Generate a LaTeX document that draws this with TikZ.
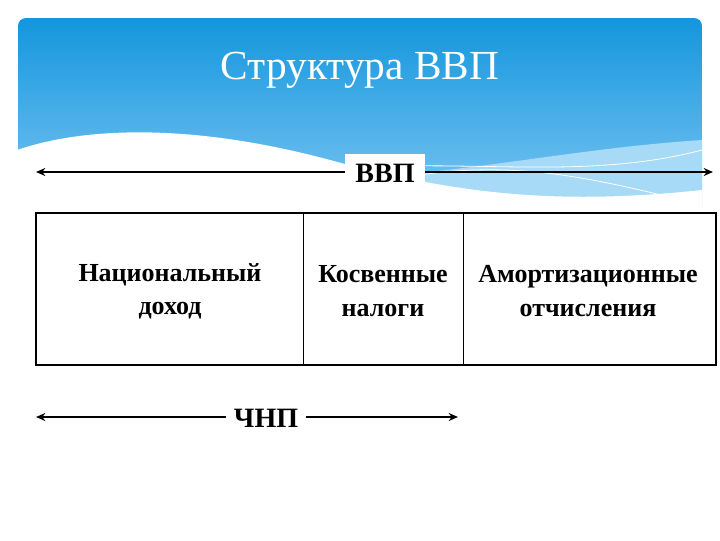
\documentclass[tikz,border=0pt]{standalone}
\usepackage{fontspec}
\setmainfont{Liberation Serif}
\usetikzlibrary{arrows.meta}
\definecolor{topblue}{HTML}{1496DD}
\definecolor{botblue}{HTML}{7CC6F2}
\definecolor{band}{HTML}{A6DAF6}
\begin{document}
\begin{tikzpicture}[x=0.75pt,y=-0.75pt,
  lbl/.style={font=\fontsize{19.5}{25}\selectfont\bfseries,align=center},
  arr/.style={line width=1.3pt,{Stealth[length=7pt,width=6pt]}-{Stealth[length=7pt,width=6pt]}}]
\useasboundingbox (0,0) rectangle (720,540);
\fill[white] (0,0) rectangle (720,540);
\shade[top color=topblue, bottom color=botblue, rounded corners=6pt]
  (18,18) rectangle (702,210);
\fill[band] (230,185) .. controls (450,180) and (550,150) .. (702,140) -- (702,210) -- (230,210) -- cycle;
\fill[white] (17,150) .. controls (90,125) and (200,125) .. (330,160) .. controls (460,195) and (560,205) .. (702,190) -- (702,212) -- (17,212) -- cycle;
\draw[white,line width=0.6pt] (220,190) .. controls (400,140) and (550,190) .. (702,150);
\draw[white,line width=0.6pt] (420,175) .. controls (520,160) and (600,180) .. (690,202);
\node[text=white,font=\fontsize{31}{34}\selectfont] (title) at (360,70) {Структура ВВП};
\coordinate (gl) at (36,172); \coordinate (gr) at (713,172);
\draw[arr] (gl) -- (gr);
\node[lbl,fill=white,minimum width=80*0.75pt,minimum height=38*0.75pt,font=\fontsize{21}{24}\selectfont\bfseries] (vvp) at (385,173) {ВВП};
\node[draw,line width=0.9pt,minimum width=680*0.75pt,minimum height=152*0.75pt,inner sep=0] (box) at (376,289) {};
\draw[line width=0.4pt] (303,213) -- (303,365);
\draw[line width=0.4pt] (463,213) -- (463,365);
\node[lbl] (nd) at (170,291) {Национальный\\доход};
\node[lbl] (kn) at (383,291) {Косвенные\\налоги};
\node[lbl] (am) at (588,291) {Амортизационные\\отчисления};
\coordinate (cl) at (36,417); \coordinate (cr) at (458,417);
\draw[arr] (cl) -- (cr);
\node[lbl,fill=white,font=\fontsize{21}{24}\selectfont\bfseries,inner xsep=6pt] (chnp) at (266,418) {ЧНП};
\end{tikzpicture}
\end{document}
